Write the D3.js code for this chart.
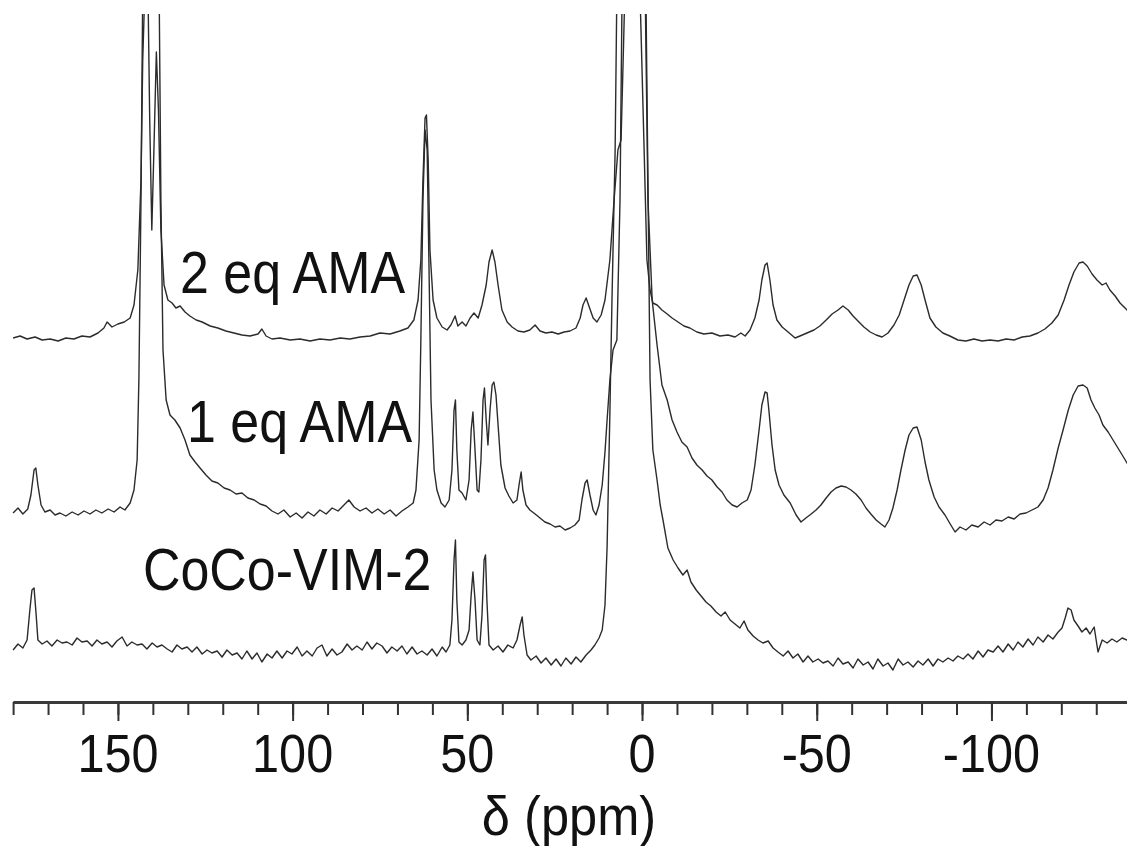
<!DOCTYPE html>
<html>
<head>
<meta charset="utf-8">
<script src="https://cdn.jsdelivr.net/npm/d3@7"></script>
<style>
  html, body { margin: 0; padding: 0; background: #fff; }
  svg { display: block; }
  text { font-family: "Liberation Sans", Arial, Helvetica, sans-serif; fill: #111; }
</style>
</head>
<body>
<svg id="chart" width="1127" height="846"></svg>
<script>
// ---------------- data ----------------
const xDomain = [180, -140];                 // δ (ppm), reversed
const majorTicks = [150, 100, 50, 0, -50, -100];
const minorTicks = d3.range(-140, 181, 10);
const axisTitle = "δ (ppm)";

const seriesNames = ["2 eq AMA", "1 eq AMA", "CoCo-VIM-2"];
const offsets = [36.2, 18.8, 5.2];          // vertical stacking offsets (a.u.)

// [ppm, intensity above baseline (a.u.)]
const trace2eq = [
[180,0],[178,0.2],[176,-0.1],[173.7,0.1],[171.7,-0.2],[169.4,-0.1],[167.1,-0.3],[164.9,0],[162.6,-0.1],[160.3,0.2],[158,0.1],[155.7,0.5],[154,1.0],[153.1,1.6],[151.7,1.1],[150,1.4],[148.2,1.6],[146.5,2.0],[145.4,3.3],[144.3,6.8],[143.4,15.8],[142.9,27.8],[142.3,34.8],[141.4,34.8],[140.9,21.8],[140.3,10.8],[139.7,18.8],[139.0,28.6],[138.4,22.8],[137.7,10.8],[136.8,5.3],[135.7,3.8],[134.5,3.5],[133.4,3.0],[132.2,3.2],[130.8,2.6],[129.4,2.2],[127.6,1.8],[125.9,1.6],[123.6,1.2],[121.4,1.0],[119.1,0.7],[116.8,0.5],[114.5,0.3],[112.2,0.2],[109.9,0.4],[108.8,0.9],[107.6,0.2],[105.9,-0.1],[103.6,0],[100.7,-0.2],[97.9,-0.1],[95,-0.3],[92.2,-0.1],[89.3,-0.2],[86.4,0],[83.6,-0.1],[80.7,0.1],[77.8,0.2],[75,0.5],[72.1,0.4],[69.3,0.7],[67,1.0],[65.3,1.8],[64.1,3.8],[63.3,7.8],[62.7,15.8],[62.1,22.0],[61.7,22.3],[61.2,17.8],[60.7,8.8],[59.8,3.8],[58.7,2.0],[57.2,1.1],[55.8,0.8],[54.7,1.3],[53.5,2.2],[52.7,1.2],[51.5,1.6],[50.4,1.2],[49.2,2.0],[48.1,2.5],[46.9,2.0],[45.8,3.3],[44.6,5.3],[43.8,7.6],[42.9,8.8],[42.1,7.6],[41.2,5.3],[40.1,2.8],[38.6,1.6],[37.2,1.1],[35.5,0.7],[33.8,0.6],[32.1,0.8],[30.6,1.3],[29.2,0.7],[27.5,0.5],[25.8,0.6],[24,0.4],[22.3,0.6],[20.6,0.7],[18.9,1.0],[17.7,2.0],[16.9,3.3],[16.0,4.0],[15.2,3.2],[14.0,2.0],[12.9,1.6],[11.7,2.3],[10.6,3.8],[9.2,7.8],[8.0,13.8],[6.9,18.8],[6.0,19.8],[5.4,27.8],[4.9,34.8],[0.6,34.8],[-0.6,18.8],[-1.4,7.8],[-2.3,4.8],[-3.1,3.5],[-4.3,3.3],[-5.7,2.8],[-7.2,2.4],[-8.6,2.0],[-10.3,1.6],[-12.0,1.2],[-13.7,1.0],[-15.7,0.6],[-17.7,0.4],[-20,0.5],[-22.3,0.2],[-24.6,0.3],[-26.6,0.1],[-28.3,0.5],[-29.5,0.2],[-30.9,0.8],[-32.3,2.0],[-33.5,3.8],[-34.3,5.8],[-35.2,7.3],[-35.8,7.5],[-36.6,5.8],[-37.5,3.3],[-38.6,1.8],[-40.1,1.1],[-41.8,0.6],[-43.8,0],[-45.2,0.2],[-47.2,0.5],[-49.2,0.8],[-50.9,1.2],[-52.7,1.8],[-54.4,2.4],[-56.1,2.8],[-57.5,3.2],[-59.0,2.8],[-60.4,2.2],[-61.8,1.7],[-63.5,1.1],[-65.3,0.6],[-67.0,0.3],[-68.7,0.1],[-70.4,0.5],[-72.1,1.3],[-73.6,2.3],[-75.0,3.8],[-76.4,5.3],[-77.6,6.2],[-78.7,6.3],[-79.9,5.3],[-81.0,3.8],[-82.4,2.0],[-84.1,1.1],[-86.1,0.5],[-88.1,0.2],[-90.4,-0.2],[-92.7,-0.3],[-95.0,-0.1],[-97.3,-0.3],[-99.6,-0.2],[-101.9,-0.3],[-104.2,-0.1],[-106.5,-0.2],[-108.8,0.1],[-111.0,0.2],[-113.3,0.5],[-115.3,0.9],[-117.3,1.5],[-119.1,2.3],[-120.8,3.8],[-122.2,5.3],[-123.6,6.6],[-125.1,7.5],[-126.2,7.6],[-127.4,7.2],[-128.8,6.4],[-130.2,5.8],[-131.7,5.3],[-132.8,5.5],[-133.9,4.8],[-135.4,4.2],[-136.8,3.5],[-138.8,2.8],[-140,2.4]
];

const trace1eq = [
[180,-0.1],[178.6,0.4],[177.2,-0.2],[175.8,0.3],[174.9,1.7],[174.0,4.2],[173.5,4.4],[172.9,2.7],[172.0,0.7],[170.9,0],[169.4,0.2],[168.0,-0.3],[166.6,-0.1],[164.9,-0.4],[163.1,0],[161.4,-0.3],[159.7,0.1],[158.0,-0.2],[156.3,0.2],[154.6,-0.1],[152.8,0.3],[151.1,0],[149.4,0.5],[148.0,0.2],[146.5,0.9],[145.4,2.2],[144.5,5.2],[144.0,13.2],[143.4,31.2],[142.9,52.2],[138.2,52.2],[137.7,31.2],[137.1,16.2],[136.2,11.2],[135.1,9.7],[133.7,9.2],[132.2,8.4],[130.8,7.2],[129.4,5.7],[127.9,5.0],[126.5,4.4],[124.8,3.7],[123.1,3.1],[121.4,2.9],[119.6,2.4],[117.9,2.2],[116.2,1.8],[114.5,1.9],[112.8,1.4],[111.0,1.2],[109.3,0.8],[107.6,0.6],[105.9,0.1],[104.2,-0.2],[102.5,0.2],[100.7,-0.5],[99.0,-0.1],[97.3,-0.6],[95.6,0],[93.9,-0.4],[92.2,0.2],[90.4,-0.2],[88.7,0.4],[87.0,0.1],[85.3,0.7],[83.9,1.2],[82.4,0.5],[80.7,0.1],[79.0,0.4],[77.3,-0.1],[75.6,0.3],[73.8,-0.2],[72.1,0.2],[70.4,-0.4],[68.7,0.1],[67.0,0.5],[65.5,0.9],[64.7,2.2],[63.8,7.2],[63.3,17.2],[62.7,31.2],[62.1,38.2],[61.5,36.2],[61.0,25.2],[60.4,11.2],[59.5,4.2],[58.7,2.2],[57.5,0.9],[56.4,0.5],[55.2,1.2],[54.4,4.2],[53.8,10.2],[53.4,11.2],[53.0,6.2],[52.4,2.2],[51.5,1.9],[50.4,1.2],[49.5,3.2],[48.9,8.2],[48.4,10.0],[47.8,6.2],[47.2,2.2],[46.7,2.0],[46.1,5.2],[45.5,11.2],[45.1,12.4],[44.6,9.2],[44.1,6.7],[43.5,10.2],[42.9,12.7],[42.4,13.0],[41.8,11.7],[41.2,8.7],[40.4,4.7],[39.2,2.4],[38.1,1.6],[36.9,0.9],[35.8,1.2],[35.2,2.7],[34.6,4.0],[34.1,2.2],[33.2,0.7],[32.1,0.2],[30.6,-0.2],[29.2,-0.6],[27.8,-1.0],[26.3,-1.2],[24.9,-1.5],[23.5,-1.4],[22.0,-1.8],[20.6,-1.6],[19.2,-1.3],[18.0,-0.8],[17.2,1.2],[16.3,2.9],[15.7,3.2],[14.9,1.7],[14.0,0.2],[13.2,-0.3],[12.3,0.7],[11.4,2.7],[10.6,6.0],[10.0,9.2],[9.2,13.2],[8.3,16.2],[7.2,17.2],[6.3,31.2],[5.7,52.2],[-0.9,52.2],[-1.7,31.2],[-2.9,21.2],[-4.3,16.7],[-5.7,12.7],[-7.2,11.2],[-8.6,9.2],[-10.0,8.0],[-11.4,7.0],[-12.9,6.5],[-14.3,5.4],[-15.7,4.7],[-17.2,4.2],[-18.6,3.6],[-20.0,3.2],[-21.5,2.5],[-22.9,2.0],[-24.3,1.2],[-25.8,0.7],[-27.2,0.5],[-28.6,0.9],[-30.1,1.2],[-31.2,2.2],[-32.3,4.7],[-33.5,8.2],[-34.3,10.7],[-35.2,12.0],[-35.8,11.9],[-36.3,10.2],[-37.2,6.7],[-38.1,4.2],[-39.2,2.7],[-40.6,1.7],[-42.4,0.9],[-44.1,-0.3],[-45.5,-1.0],[-46.9,-0.6],[-48.4,-0.2],[-49.8,0.2],[-51.2,0.7],[-52.7,1.4],[-54.1,2.0],[-55.5,2.4],[-57.0,2.6],[-58.4,2.5],[-59.8,2.2],[-61.2,1.8],[-62.7,1.2],[-64.1,0.4],[-65.5,-0.2],[-67.0,-0.8],[-68.4,-1.2],[-69.5,-1.5],[-70.7,-0.8],[-71.8,0.4],[-73.0,2.2],[-74.1,4.2],[-75.3,6.2],[-76.4,7.7],[-77.6,8.4],[-78.7,8.5],[-79.9,7.2],[-81.0,5.0],[-82.1,3.2],[-83.6,1.5],[-85.0,0.5],[-86.7,-0.3],[-88.2,-1.2],[-89.6,-2.0],[-91.0,-1.5],[-92.7,-1.8],[-94.4,-1.3],[-96.2,-1.5],[-97.9,-1.0],[-99.6,-1.3],[-101.3,-0.8],[-103.0,-0.9],[-104.8,-0.5],[-106.5,-0.7],[-108.2,-0.2],[-109.9,-0.1],[-111.6,0.2],[-113.3,0.5],[-114.8,1.2],[-116.2,2.4],[-117.6,4.2],[-119.1,6.4],[-120.5,8.2],[-122.0,10.2],[-123.4,11.7],[-124.8,12.6],[-126.2,12.7],[-127.4,12.4],[-128.5,11.2],[-129.6,10.4],[-130.8,9.7],[-131.9,8.7],[-133.4,8.0],[-134.8,7.2],[-136.2,6.4],[-137.6,5.6],[-138.8,4.9],[-140,4.4]
];

const traceCoCo = [
[180,-0.2],[178.6,0.4],[177.2,0],[176.0,0.8],[175.2,3.8],[174.6,5.8],[174.0,6.0],[173.4,3.3],[172.9,0.8],[171.7,0.4],[170.3,0.7],[168.9,0.2],[167.4,0.8],[166.0,0.5],[164.6,0.6],[163.1,0.3],[161.7,1.0],[160.3,0.6],[158.8,0.7],[157.4,0.2],[156.0,0.8],[154.6,0.4],[153.1,0.6],[151.7,0.1],[150.3,0.7],[148.8,1.1],[147.4,0.2],[146.0,0.6],[144.5,0.3],[143.1,0.4],[141.7,-0.1],[140.2,0.5],[138.8,0.1],[137.4,0.3],[135.9,-0.1],[134.5,-0.4],[133.1,0.3],[131.7,-0.1],[130.2,0.1],[128.8,-0.4],[127.4,0.1],[125.9,-0.6],[124.5,-0.2],[123.1,-0.5],[121.6,-0.3],[120.2,-0.9],[118.8,-0.2],[117.3,-0.7],[115.9,-0.5],[114.5,-1.1],[113.1,-0.3],[111.6,-1.1],[110.2,-0.5],[108.8,-1.4],[107.3,-0.6],[105.9,-1.0],[104.5,-0.3],[103.0,-1.0],[101.6,-0.3],[100.2,-0.6],[98.7,0.1],[97.3,-0.8],[95.9,-0.3],[94.4,-0.8],[93.0,0],[91.6,0.3],[90.2,-0.8],[88.7,-0.1],[87.3,-0.7],[85.9,-0.4],[84.4,0.4],[83.0,-0.2],[81.6,0.2],[80.1,-0.2],[78.7,0.6],[77.3,-0.1],[75.9,0.5],[74.4,0.2],[73.0,-0.5],[71.6,0.1],[70.1,-0.3],[68.7,0.2],[67.3,-0.6],[65.8,0.1],[64.4,-0.6],[63.0,-0.3],[61.5,-0.7],[60.1,-0.1],[58.7,-0.8],[57.2,0.1],[56.1,-0.4],[55.0,0.3],[54.4,2.8],[53.8,8.8],[53.4,10.8],[53.0,4.8],[52.4,0.6],[51.5,0.3],[50.4,0.8],[49.5,1.8],[48.9,5.3],[48.4,7.6],[47.8,4.8],[47.2,0.8],[46.4,0.3],[45.8,3.3],[45.2,8.8],[44.8,9.3],[44.4,4.8],[43.8,0.3],[42.6,-0.2],[41.2,0.2],[39.8,-0.4],[38.4,0.3],[36.9,0],[35.8,0.8],[34.9,2.3],[34.3,3.1],[33.8,1.3],[32.9,-0.7],[31.8,-1.2],[30.3,-0.8],[28.9,-1.5],[27.5,-1.0],[26.0,-1.7],[24.6,-1.1],[23.2,-1.8],[21.8,-1.0],[20.3,-1.6],[18.9,-0.9],[17.5,-1.4],[16.0,-0.7],[14.6,-0.2],[13.5,0.3],[12.3,1.0],[11.4,1.8],[10.6,4.3],[10.0,10.1],[9.2,23.5],[8.6,34.8],[7.7,49.8],[7.2,65.8],[-1.1,65.8],[-2.3,26.8],[-3.1,19.8],[-4.3,16.8],[-5.2,14.3],[-6.0,12.8],[-7.4,10.0],[-8.9,8.8],[-10.3,8.0],[-11.7,7.3],[-12.9,7.8],[-14.0,6.6],[-15.5,5.8],[-16.9,5.2],[-18.3,4.6],[-19.7,4.2],[-21.2,3.6],[-22.6,3.2],[-23.8,3.6],[-25.2,2.8],[-26.6,2.4],[-28.0,2.0],[-29.2,2.7],[-30.3,1.8],[-31.8,1.2],[-33.2,0.8],[-34.6,0.5],[-36.1,0.7],[-37.5,0],[-38.9,-0.4],[-40.4,-0.8],[-41.8,-0.3],[-43.2,-1.0],[-44.6,-0.6],[-46.1,-1.4],[-47.5,-0.8],[-48.9,-1.4],[-50.4,-1.1],[-51.8,-1.5],[-53.2,-1.3],[-54.7,-1.8],[-56.1,-1.0],[-57.5,-1.6],[-59.0,-1.4],[-60.4,-2.0],[-61.8,-1.1],[-63.3,-1.7],[-64.7,-1.4],[-66.1,-2.1],[-67.5,-1.1],[-69.0,-1.8],[-70.4,-1.5],[-71.8,-2.2],[-73.3,-1.1],[-74.7,-1.7],[-76.1,-1.4],[-77.6,-1.9],[-79.0,-1.3],[-80.4,-1.7],[-81.9,-1.1],[-83.3,-1.8],[-84.7,-1.1],[-86.1,-1.4],[-87.6,-1.0],[-89.0,-1.3],[-90.4,-0.8],[-91.9,-1.1],[-93.3,-0.6],[-94.7,-1.1],[-96.2,-0.3],[-97.6,-0.9],[-99.0,-0.2],[-100.5,-0.4],[-101.9,0.2],[-103.3,-0.4],[-104.8,0.4],[-106.2,-0.2],[-107.6,0.6],[-109.0,0.1],[-110.5,0.9],[-111.9,0.3],[-113.3,1.1],[-114.8,0.6],[-116.2,1.3],[-117.6,0.9],[-119.1,1.6],[-120.2,2.0],[-121.1,3.0],[-121.9,4.0],[-122.8,3.8],[-123.6,2.8],[-124.8,2.2],[-125.9,1.6],[-127.1,2.0],[-128.2,1.4],[-129.4,2.1],[-130.5,-0.4],[-131.7,0.8],[-133.1,0.5],[-134.5,0.9],[-135.9,0.6],[-137.4,1.0],[-138.8,0.8],[-140,0.9]
];

const traces = [trace2eq, trace1eq, traceCoCo];

// ---------------- layout ----------------
const W = 1127, H = 846;
const svg = d3.select("#chart");
const x = d3.scaleLinear().domain(xDomain).range([13.1, 1131.2]);
const y = d3.scaleLinear().domain([0, 70]).range([700, 0]);
const axisY = 702;

svg.append("defs").append("clipPath").attr("id", "plotclip")
  .append("rect").attr("x", 0).attr("y", 14).attr("width", W).attr("height", 700 - 14);

const plot = svg.append("g").attr("clip-path", "url(#plotclip)");
const line = d3.line().x(d => x(d[0])).y(d => y(d[1]));

[2, 1, 0].forEach(i => {
  const pts = traces[i].map(d => [d[0], d[1] + offsets[i]]);
  plot.append("path")
    .attr("d", line(pts))
    .attr("fill", "none")
    .attr("stroke", "#2b2b2b")
    .attr("stroke-width", 1.4)
    .attr("stroke-linejoin", "round");
});

// series labels
const labelPos = [
  { name: seriesNames[0], x: 180, y: 293 },
  { name: seriesNames[1], x: 187, y: 442 },
  { name: seriesNames[2], x: 143, y: 590 }
];
labelPos.forEach(l => {
  svg.append("text")
    .attr("transform", `translate(${l.x},${l.y}) scale(0.88,1)`)
    .attr("font-size", 59)
    .text(l.name);
});

// axis
const axisG = svg.append("g").attr("transform", `translate(0,${axisY})`);
const minorAxis = d3.axisBottom(x).tickValues(minorTicks).tickSize(13).tickFormat("").tickSizeOuter(0);
const majorAxis = d3.axisBottom(x).tickValues(majorTicks).tickSize(19).tickFormat("").tickSizeOuter(0);
axisG.append("g").call(minorAxis);
axisG.append("g").call(majorAxis);
axisG.selectAll(".domain").attr("stroke", "#3a3a3a").attr("stroke-width", 3);
axisG.selectAll(".tick line").attr("stroke", "#333").attr("stroke-width", 2);

// tick labels (hyphen-minus as in the original)
majorTicks.forEach(v => {
  svg.append("text")
    .attr("transform", `translate(${x(v)},772) scale(0.9,1)`)
    .attr("text-anchor", "middle")
    .attr("font-size", 54)
    .text(String(v));
});

// axis title
svg.append("text")
  .attr("transform", `translate(569,835) scale(0.92,1)`)
  .attr("text-anchor", "middle")
  .attr("font-size", 55)
  .text(axisTitle);
</script>
</body>
</html>
